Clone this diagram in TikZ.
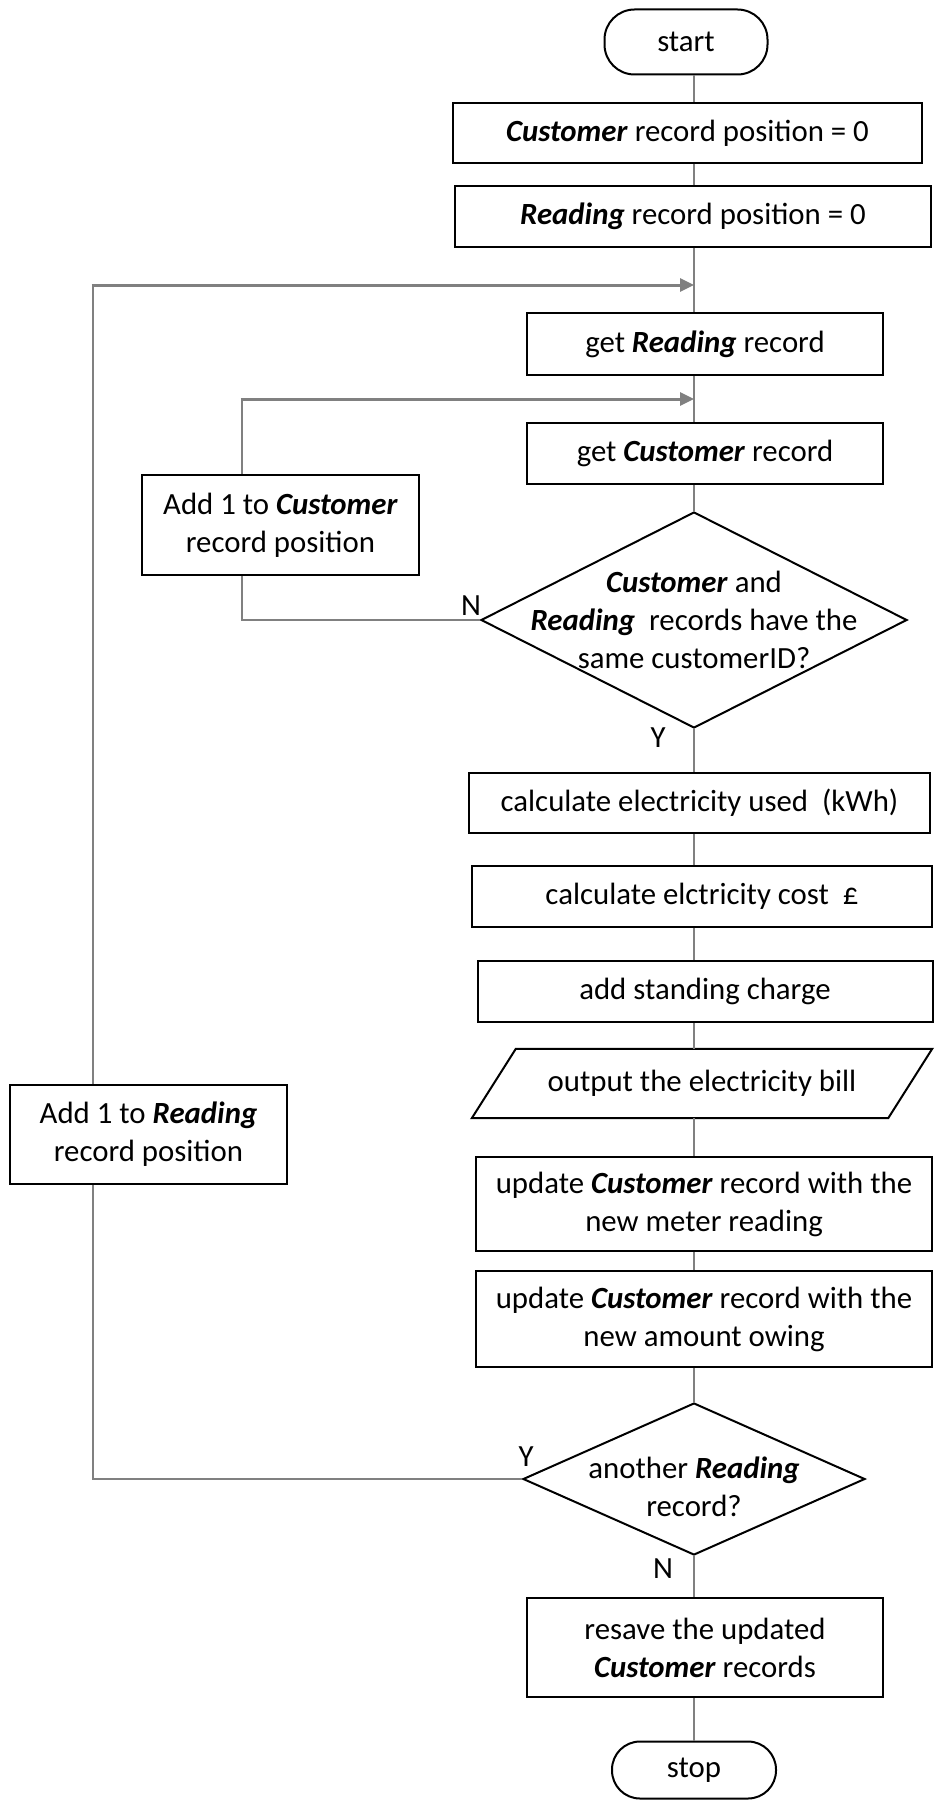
\documentclass[tikz,border=0pt]{standalone}
\usepackage{fontspec}
\setmainfont{Carlito}
\usetikzlibrary{shapes.geometric,arrows.meta}

\begin{document}
\begin{tikzpicture}[x=1pt,y=-1pt,
  every node/.style={font=\fontsize{30.8}{38}\selectfont},
  box/.style={draw,line width=2pt,inner sep=0pt,align=center},
  term/.style={box,rounded corners=30pt},
  choice/.style={draw,line width=2pt,shape=diamond,inner sep=0pt},
  io/.style={inner sep=0pt},
  link/.style={draw=black!50,line width=1.2pt},
  back/.style={draw=black!50,line width=3pt,-{Triangle[length=14pt,width=13pt]}},
  yn/.style={inner sep=0pt}]
\useasboundingbox (0,0) rectangle (934,1803);
\coordinate (spine) at (694,0);
\coordinate (cx) at (242,0);
\coordinate (rx) at (93,0);
\coordinate (j1) at (694,285);
\coordinate (j2) at (694,399);
\draw (686,42)node[term,minimum width=163pt,minimum height=65pt](start){start};
\draw (687.5,133)node[box,minimum width=469pt,minimum height=60pt](cpos){\textbf{\textit{Customer}} record position = 0};
\draw (693,216.5)node[box,minimum width=476pt,minimum height=61pt](rpos){\textbf{\textit{Reading}} record position = 0};
\draw (705,344)node[box,minimum width=356pt,minimum height=62pt](getR){get \textbf{\textit{Reading}} record};
\draw (705,453.5)node[box,minimum width=356pt,minimum height=61pt](getC){get \textbf{\textit{Customer}} record};
\draw (280.5,525)node[box,minimum width=277pt,minimum height=100pt](addC){Add 1 to \textbf{\textit{Customer}}\\record position};
\draw (694,620)node[choice,minimum width=426pt,minimum height=216pt,
  label={[align=center]center:{\textbf{\textit{Customer}} and\\\textbf{\textit{Reading}}~ records have the\\same customerID?}}](same){};
\draw (471,606)node[yn](n1){N};
\draw (658,738)node[yn](y1){Y};
\draw (699.5,803)node[box,minimum width=461pt,minimum height=60pt](calcU){calculate electricity used~ (kWh)};
\draw (702,896.5)node[box,minimum width=460pt,minimum height=61pt](calcC){calculate elctricity cost~ £};
\draw (705,991.5)node[box,minimum width=455pt,minimum height=61pt](stand){add standing charge};
\draw (702,1083.5)node[io,minimum width=416pt,minimum height=69pt](out){output the electricity bill};
\draw[line width=2pt] ([xshift=22pt]out.north west)--([xshift=22pt]out.north east)
  --([xshift=-22pt]out.south east)--([xshift=-22pt]out.south west)--cycle;
\draw (148.5,1134.5)node[box,minimum width=277pt,minimum height=99pt](addR){Add 1 to \textbf{\textit{Reading}}\\record position};
\draw (704,1204)node[box,minimum width=456pt,minimum height=94pt](upd1){update \textbf{\textit{Customer}} record with the\\new meter reading};
\draw (704,1319)node[box,minimum width=456pt,minimum height=96pt](upd2){update \textbf{\textit{Customer}} record with the\\new amount owing};
\draw (694,1479)node[choice,minimum width=342pt,minimum height=152pt,
  label={[align=center,yshift=-8pt]center:{another \textbf{\textit{Reading}}\\record?}}](more){};
\draw (526,1457)node[yn](y2){Y};
\draw (663,1569)node[yn](n2){N};
\draw (705,1647.5)node[box,minimum width=356pt,minimum height=99pt](resave){resave the updated\\\textbf{\textit{Customer}} records};
\draw (694,1770)node[term,minimum width=164pt,minimum height=57pt,rounded corners=28pt](stop){stop};
\draw[link] (start.south-|spine)--(cpos.north-|spine);
\draw[link] (cpos.south-|spine)--(rpos.north-|spine);
\draw[link] (rpos.south-|spine)--(getR.north-|spine);
\draw[link] (getR.south-|spine)--(getC.north-|spine);
\draw[link] (getC.south-|spine)--(same.north);
\draw[link] (same.south)--(calcU.north-|spine);
\draw[link] (calcU.south-|spine)--(calcC.north-|spine);
\draw[link] (calcC.south-|spine)--(stand.north-|spine);
\draw[link] (stand.south-|spine)--(out.north-|spine);
\draw[link] (out.south-|spine)--(upd1.north-|spine);
\draw[link] (upd1.south-|spine)--(upd2.north-|spine);
\draw[link] (upd2.south-|spine)--(more.north);
\draw[link] (more.south)--(resave.north-|spine);
\draw[link] (resave.south-|spine)--(stop.north-|spine);
\draw[link] (same.west)--(same.west-|cx)--(addC.south-|cx);
\draw[link] (addC.north-|cx)--(j2-|cx);
\draw[back] ([xshift=-1.5pt]j2-|cx)--(j2);
\draw[link] (more.west)--(more.west-|rx)--(addR.south-|rx);
\draw[link] (addR.north-|rx)--(j1-|rx);
\draw[back] ([xshift=-1.5pt]j1-|rx)--(j1);
\end{tikzpicture}
\end{document}
